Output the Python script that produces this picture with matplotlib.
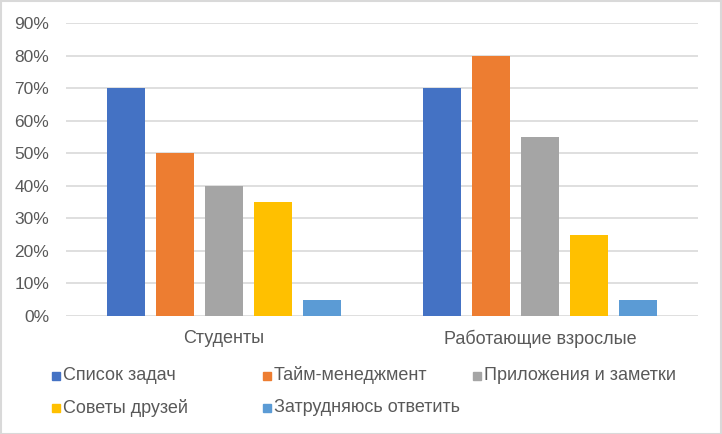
import numpy as np
import matplotlib.pyplot as plt
from matplotlib.patches import Rectangle

plt.rcParams['font.family'] = ['Liberation Sans', 'DejaVu Sans']

# данные
groups = ['Студенты', 'Работающие взрослые']
series = ['Список задач', 'Тайм-менеджмент', 'Приложения и заметки',
          'Советы друзей', 'Затрудняюсь ответить']
students = [0.70, 0.50, 0.40, 0.35, 0.05]
adults = [0.70, 0.80, 0.55, 0.25, 0.05]
colors = ['#4472C4', '#ED7D31', '#A5A5A5', '#FFC000', '#5B9BD5']
yticks = [0, 0.1, 0.2, 0.3, 0.4, 0.5, 0.6, 0.7, 0.8, 0.9]

W, H = 722, 434
fig = plt.figure(figsize=(W / 100, H / 100), dpi=100)
ax = fig.add_axes([66 / W, 1 - 316 / H, 632 / W, 293 / H])

x = np.arange(len(groups))
step = 0.155
width = 0.122
for i, name in enumerate(series):
    vals = [students[i], adults[i]]
    ax.bar(x + (i - 2) * step, vals, width=width, color=colors[i], zorder=3)

ax.set_xlim(-0.5, 1.5)
ax.set_ylim(0, 0.9)
ax.set_yticks(yticks)
ax.set_yticklabels([f'{int(round(v * 100))}%' for v in yticks])
ax.set_xticks(x)
ax.set_xticklabels(groups, fontsize=13)
ax.tick_params(axis='both', length=0, labelcolor='#595959')
ax.tick_params(axis='y', pad=12, labelsize=12.5)
ax.tick_params(axis='x', pad=10)
ax.grid(axis='y', color='#D9D9D9', linewidth=1.2, zorder=0)
for s in ax.spines.values():
    s.set_visible(False)

# легенда вручную, колонки фиксированной ширины как в Excel
col_x = [52, 263, 473]
row_y = [375.5, 408]
for i, name in enumerate(series):
    cx = col_x[i % 3]
    cy = row_y[i // 3]
    fig.patches.append(Rectangle((cx / W, 1 - (cy + 4) / H), 8 / W, 8 / H,
                                 transform=fig.transFigure, color=colors[i]))
    fig.text((cx + 11) / W, 1 - cy / H, name, fontsize=13, color='#595959',
             va='center', ha='left')

# рамка
fig.patches.append(Rectangle((0.5 / W, 0.5 / H), 1 - 1.5 / W, 1 - 1.5 / H,
                             transform=fig.transFigure, fill=False,
                             edgecolor='#D9D9D9', linewidth=1.5))

fig.savefig('out.png', dpi=100)
